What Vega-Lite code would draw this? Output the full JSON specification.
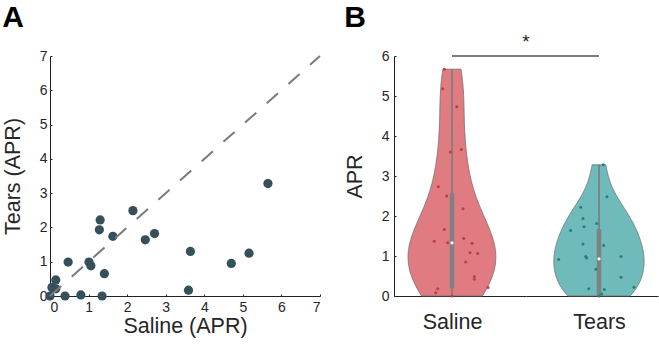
{
  "$schema": "https://vega.github.io/schema/vega-lite/v6.json",
  "background": "white",
  "padding": {"left": 2, "top": 3, "right": 2, "bottom": 2},
  "config": {
    "view": {"stroke": null},
    "font": "Liberation Sans",
    "axis": {"domainColor": "#222222", "domainWidth": 1, "ticks": true, "tickColor": "#222222", "tickWidth": 1, "tickSize": -2, "labelFontSize": 14, "labelColor": "#262626", "labelOverlap": false, "titleFontSize": 21.5, "titleFontWeight": "normal", "titleColor": "#262626", "grid": false, "labelFont": "Liberation Sans", "titleFont": "Liberation Sans"}
  },
  "datasets": {
    "pairs": [
      {"saline": 5.65, "tears": 3.28}, {"saline": 2.15, "tears": 2.49}, {"saline": 1.30, "tears": 2.22},
      {"saline": 1.28, "tears": 1.93}, {"saline": 1.63, "tears": 1.74}, {"saline": 2.47, "tears": 1.64},
      {"saline": 2.71, "tears": 1.82}, {"saline": 3.64, "tears": 1.30}, {"saline": 5.16, "tears": 1.25},
      {"saline": 4.70, "tears": 0.95}, {"saline": 3.59, "tears": 0.17}, {"saline": 0.47, "tears": 0.99},
      {"saline": 1.01, "tears": 0.99}, {"saline": 1.06, "tears": 0.88}, {"saline": 1.41, "tears": 0.65},
      {"saline": 0.15, "tears": 0.47}, {"saline": 0.15, "tears": 0.21}, {"saline": 0.05, "tears": 0.25},
      {"saline": 0.0, "tears": 0.0}, {"saline": 0.39, "tears": 0.0}, {"saline": 0.80, "tears": 0.03},
      {"saline": 1.35, "tears": 0.0}
    ],
    "apr": [
      {"group": "Saline", "value": 5.67, "jit": -7.7}, {"group": "Saline", "value": 5.18, "jit": -9.3},
      {"group": "Saline", "value": 4.73, "jit": 4.7}, {"group": "Saline", "value": 3.66, "jit": 9.3},
      {"group": "Saline", "value": 3.60, "jit": -1.7}, {"group": "Saline", "value": 2.73, "jit": -13.7},
      {"group": "Saline", "value": 2.50, "jit": -5.3}, {"group": "Saline", "value": 2.18, "jit": 11},
      {"group": "Saline", "value": 1.66, "jit": -7.7}, {"group": "Saline", "value": 1.44, "jit": 11.7},
      {"group": "Saline", "value": 1.37, "jit": -17.7}, {"group": "Saline", "value": 1.33, "jit": -4.3},
      {"group": "Saline", "value": 1.32, "jit": 20}, {"group": "Saline", "value": 1.09, "jit": 18},
      {"group": "Saline", "value": 1.06, "jit": 25.7}, {"group": "Saline", "value": 0.85, "jit": 13.7},
      {"group": "Saline", "value": 0.49, "jit": 22.3}, {"group": "Saline", "value": 0.42, "jit": 22.3},
      {"group": "Saline", "value": 0.21, "jit": 36}, {"group": "Saline", "value": 0.18, "jit": -14.3},
      {"group": "Saline", "value": 0.08, "jit": -16.3}, {"group": "Saline", "value": 0.0, "jit": 0},
      {"group": "Tears", "value": 3.28, "jit": 4.3}, {"group": "Tears", "value": 2.48, "jit": 8},
      {"group": "Tears", "value": 2.22, "jit": -18.3}, {"group": "Tears", "value": 1.94, "jit": -16},
      {"group": "Tears", "value": 1.73, "jit": -15}, {"group": "Tears", "value": 1.81, "jit": -2.3},
      {"group": "Tears", "value": 1.64, "jit": -28.3}, {"group": "Tears", "value": 1.30, "jit": -16},
      {"group": "Tears", "value": 1.26, "jit": 4.7}, {"group": "Tears", "value": 0.99, "jit": -13.3},
      {"group": "Tears", "value": 0.95, "jit": -12.3}, {"group": "Tears", "value": 0.99, "jit": 22},
      {"group": "Tears", "value": 0.91, "jit": -40.3}, {"group": "Tears", "value": 0.67, "jit": -3},
      {"group": "Tears", "value": 0.47, "jit": 22}, {"group": "Tears", "value": 0.18, "jit": -10.3},
      {"group": "Tears", "value": 0.16, "jit": 5.3}, {"group": "Tears", "value": 0.22, "jit": 35},
      {"group": "Tears", "value": 0.05, "jit": 2.7}, {"group": "Tears", "value": 0.0, "jit": 0}
    ],
    "stats": [
      {"group": "Saline", "min": 0, "q1": 0.19, "med": 1.33, "q3": 2.57, "max": 5.67},
      {"group": "Tears", "min": 0, "q1": 0, "med": 0.93, "q3": 1.67, "max": 3.28}
    ]
  },
  "spacing": 20,
  "hconcat": [
    {
      "width": 270,
      "height": 240,
      "title": {"text": "A", "anchor": "start", "frame": "bounds", "fontSize": 30, "fontWeight": "bold", "color": "#000000", "offset": 16, "font": "Liberation Sans"},
      "layer": [
        {
          "data": {"name": "pairs"},
          "mark": {"type": "circle", "size": 85, "opacity": 1, "color": "#36505b"},
          "encoding": {
            "x": {"field": "saline", "type": "quantitative", "scale": {"domain": [0, 7], "nice": false}, "axis": {"values": [0, 1, 2, 3, 4, 5, 6, 7], "labelOverlap": false, "title": "Saline (APR)", "labelPadding": 6, "titlePadding": 1}},
            "y": {"field": "tears", "type": "quantitative", "scale": {"domain": [0, 7], "nice": false}, "axis": {"values": [0, 1, 2, 3, 4, 5, 6, 7], "labelOverlap": false, "title": "Tears (APR)", "labelPadding": 5, "titlePadding": 15}}
          }
        },
        {
          "data": {"values": [{"saline": 0, "tears": 0}, {"saline": 7, "tears": 7}]},
          "mark": {"type": "line", "color": "#7a7a7a", "strokeWidth": 2, "strokeDash": [15, 14]},
          "encoding": {
            "x": {"field": "saline", "type": "quantitative", "axis": {"values": [0, 1, 2, 3, 4, 5, 6, 7], "labelOverlap": false, "title": "Saline (APR)", "labelPadding": 6, "titlePadding": 1}},
            "y": {"field": "tears", "type": "quantitative", "axis": {"values": [0, 1, 2, 3, 4, 5, 6, 7], "labelOverlap": false, "title": "Tears (APR)", "labelPadding": 5, "titlePadding": 15}}
          }
        }
      ]
    },
    {
      "title": {"text": "B", "anchor": "start", "frame": "bounds", "fontSize": 30, "fontWeight": "bold", "color": "#000000", "offset": 0, "font": "Liberation Sans"},
      "spacing": 0,
      "bounds": "flush",
      "hconcat": [
        {
          "width": 132,
          "height": 240,
          "resolve": {"scale": {"x": "independent"}},
          "layer": [
            {
              "data": {"name": "apr"},
              "transform": [
                {"filter": "datum.group === 'Saline'"},
                {"density": "value", "bandwidth": 0.8, "extent": [0, 5.67], "as": ["value", "density"]}
              ],
              "mark": {"type": "area", "orient": "horizontal", "fill": "#e07b81", "fillOpacity": 1, "stroke": "#6e6e6e", "strokeWidth": 0.8},
              "encoding": {
                "y": {"field": "value", "type": "quantitative", "scale": {"domain": [0, 6], "nice": false}, "axis": {"values": [0, 1, 2, 3, 4, 5, 6], "labelOverlap": false, "title": "APR", "labelPadding": 7, "titlePadding": 15}},
                "x": {"field": "density", "type": "quantitative", "stack": null, "impute": null, "scale": {"domain": [-0.349, 0.446], "nice": false, "zero": false}, "axis": null}
              }
            },
            {
              "data": {"name": "apr"},
              "transform": [
                {"filter": "datum.group === 'Saline'"},
                {"density": "value", "bandwidth": 0.8, "extent": [0, 5.67], "as": ["value", "density"]}
              ],
              "mark": {"type": "area", "orient": "horizontal", "fill": "#e07b81", "fillOpacity": 1, "stroke": "#6e6e6e", "strokeWidth": 0.8},
              "encoding": {
                "y": {"field": "value", "type": "quantitative", "scale": {"domain": [0, 6], "nice": false}, "axis": {"values": [0, 1, 2, 3, 4, 5, 6], "labelOverlap": false, "title": "APR", "labelPadding": 7, "titlePadding": 15}},
                "x": {"field": "density", "type": "quantitative", "stack": null, "impute": null, "scale": {"domain": [-0.446, 0.349], "reverse": true, "nice": false, "zero": false}, "axis": null}
              }
            },
            {
              "layer": [
                {
                  "data": {"name": "stats"},
                  "transform": [{"filter": "datum.group === 'Saline'"}],
                  "mark": {"type": "rule", "color": "#808080", "strokeWidth": 1.2},
                  "encoding": {
                    "x": {"datum": 0, "type": "quantitative", "scale": {"domain": [-58, 74], "nice": false, "zero": false}, "axis": {"values": [0], "labelExpr": "'Saline'", "ticks": false, "title": null, "labelFontSize": 21.5, "labelPadding": 15}},
                    "y": {"field": "min", "type": "quantitative", "scale": {"domain": [0, 6], "nice": false}, "axis": {"values": [0, 1, 2, 3, 4, 5, 6], "labelOverlap": false, "title": "APR", "labelPadding": 7, "titlePadding": 15}},
                    "y2": {"field": "max"}
                  }
                },
                {
                  "data": {"name": "stats"},
                  "transform": [{"filter": "datum.group === 'Saline'"}],
                  "mark": {"type": "rule", "color": "#808080", "strokeWidth": 4.5},
                  "encoding": {
                    "x": {"datum": 0, "type": "quantitative", "axis": {"values": [0], "labelExpr": "'Saline'", "ticks": false, "title": null, "labelFontSize": 21.5, "labelPadding": 15}},
                    "y": {"field": "q1", "type": "quantitative", "axis": {"values": [0, 1, 2, 3, 4, 5, 6], "labelOverlap": false, "title": "APR", "labelPadding": 7, "titlePadding": 15}},
                    "y2": {"field": "q3"}
                  }
                },
                {
                  "data": {"name": "stats"},
                  "transform": [{"filter": "datum.group === 'Saline'"}],
                  "mark": {"type": "point", "filled": true, "color": "#ffffff", "size": 10, "opacity": 1},
                  "encoding": {
                    "x": {"datum": 0, "type": "quantitative", "axis": {"values": [0], "labelExpr": "'Saline'", "ticks": false, "title": null, "labelFontSize": 21.5, "labelPadding": 15}},
                    "y": {"field": "med", "type": "quantitative", "axis": {"values": [0, 1, 2, 3, 4, 5, 6], "labelOverlap": false, "title": "APR", "labelPadding": 7, "titlePadding": 15}}
                  }
                },
                {
                  "data": {"name": "apr"},
                  "transform": [{"filter": "datum.group === 'Saline'"}],
                  "mark": {"type": "circle", "size": 9, "color": "#c23a48", "opacity": 1},
                  "encoding": {
                    "x": {"field": "jit", "type": "quantitative", "axis": {"values": [0], "labelExpr": "'Saline'", "ticks": false, "title": null, "labelFontSize": 21.5, "labelPadding": 15}},
                    "y": {"field": "value", "type": "quantitative", "axis": {"values": [0, 1, 2, 3, 4, 5, 6], "labelOverlap": false, "title": "APR", "labelPadding": 7, "titlePadding": 15}}
                  }
                },
                {
                  "data": {"values": [{}]},
                  "mark": {"type": "rule", "color": "#7f7f7f", "strokeWidth": 2},
                  "encoding": {
                    "x": {"datum": 0, "type": "quantitative", "axis": {"values": [0], "labelExpr": "'Saline'", "ticks": false, "title": null, "labelFontSize": 21.5, "labelPadding": 15}},
                    "x2": {"datum": 74},
                    "y": {"datum": 6, "type": "quantitative", "axis": {"values": [0, 1, 2, 3, 4, 5, 6], "labelOverlap": false, "title": "APR", "labelPadding": 7, "titlePadding": 15}}
                  }
                },
                {
                  "data": {"values": [{}]},
                  "mark": {"type": "text", "text": "*", "fontSize": 19, "color": "#262626", "baseline": "bottom", "dy": -4, "font": "Liberation Sans"},
                  "encoding": {
                    "x": {"datum": 74, "type": "quantitative", "axis": {"values": [0], "labelExpr": "'Saline'", "ticks": false, "title": null, "labelFontSize": 21.5, "labelPadding": 15}},
                    "y": {"datum": 6, "type": "quantitative", "axis": {"values": [0, 1, 2, 3, 4, 5, 6], "labelOverlap": false, "title": "APR", "labelPadding": 7, "titlePadding": 15}}
                  }
                }
              ]
            }
          ]
        },
        {
          "width": 132,
          "height": 240,
          "resolve": {"scale": {"x": "independent"}},
          "layer": [
            {
              "data": {"name": "apr"},
              "transform": [
                {"filter": "datum.group === 'Tears'"},
                {"density": "value", "bandwidth": 0.5, "extent": [0, 3.28], "as": ["value", "density"]}
              ],
              "mark": {"type": "area", "orient": "horizontal", "fill": "#6fbaba", "fillOpacity": 1, "stroke": "#6e6e6e", "strokeWidth": 0.8},
              "encoding": {
                "y": {"field": "value", "type": "quantitative", "scale": {"domain": [0, 6], "nice": false}, "axis": null},
                "x": {"field": "density", "type": "quantitative", "stack": null, "impute": null, "scale": {"domain": [-0.613, 0.496], "nice": false, "zero": false}, "axis": null}
              }
            },
            {
              "data": {"name": "apr"},
              "transform": [
                {"filter": "datum.group === 'Tears'"},
                {"density": "value", "bandwidth": 0.5, "extent": [0, 3.28], "as": ["value", "density"]}
              ],
              "mark": {"type": "area", "orient": "horizontal", "fill": "#6fbaba", "fillOpacity": 1, "stroke": "#6e6e6e", "strokeWidth": 0.8},
              "encoding": {
                "y": {"field": "value", "type": "quantitative", "scale": {"domain": [0, 6], "nice": false}, "axis": null},
                "x": {"field": "density", "type": "quantitative", "stack": null, "impute": null, "scale": {"domain": [-0.496, 0.613], "reverse": true, "nice": false, "zero": false}, "axis": null}
              }
            },
            {
              "layer": [
                {
                  "data": {"name": "stats"},
                  "transform": [{"filter": "datum.group === 'Tears'"}],
                  "mark": {"type": "rule", "color": "#808080", "strokeWidth": 1.2},
                  "encoding": {
                    "x": {"datum": 0, "type": "quantitative", "scale": {"domain": [-73, 59], "nice": false, "zero": false}, "axis": {"values": [0], "labelExpr": "'Tears'", "ticks": false, "title": null, "labelFontSize": 21.5, "labelPadding": 15}},
                    "y": {"field": "min", "type": "quantitative", "scale": {"domain": [0, 6], "nice": false}, "axis": null},
                    "y2": {"field": "max"}
                  }
                },
                {
                  "data": {"name": "stats"},
                  "transform": [{"filter": "datum.group === 'Tears'"}],
                  "mark": {"type": "rule", "color": "#808080", "strokeWidth": 4.5},
                  "encoding": {
                    "x": {"datum": 0, "type": "quantitative", "axis": {"values": [0], "labelExpr": "'Tears'", "ticks": false, "title": null, "labelFontSize": 21.5, "labelPadding": 15}},
                    "y": {"field": "q1", "type": "quantitative", "axis": null},
                    "y2": {"field": "q3"}
                  }
                },
                {
                  "data": {"name": "stats"},
                  "transform": [{"filter": "datum.group === 'Tears'"}],
                  "mark": {"type": "point", "filled": true, "color": "#ffffff", "size": 10, "opacity": 1},
                  "encoding": {
                    "x": {"datum": 0, "type": "quantitative", "axis": {"values": [0], "labelExpr": "'Tears'", "ticks": false, "title": null, "labelFontSize": 21.5, "labelPadding": 15}},
                    "y": {"field": "med", "type": "quantitative", "axis": null}
                  }
                },
                {
                  "data": {"name": "apr"},
                  "transform": [{"filter": "datum.group === 'Tears'"}],
                  "mark": {"type": "circle", "size": 9, "color": "#23807f", "opacity": 1},
                  "encoding": {
                    "x": {"field": "jit", "type": "quantitative", "axis": {"values": [0], "labelExpr": "'Tears'", "ticks": false, "title": null, "labelFontSize": 21.5, "labelPadding": 15}},
                    "y": {"field": "value", "type": "quantitative", "axis": null}
                  }
                },
                {
                  "data": {"values": [{}]},
                  "mark": {"type": "rule", "color": "#7f7f7f", "strokeWidth": 2},
                  "encoding": {
                    "x": {"datum": -73, "type": "quantitative", "axis": {"values": [0], "labelExpr": "'Tears'", "ticks": false, "title": null, "labelFontSize": 21.5, "labelPadding": 15}},
                    "x2": {"datum": 0},
                    "y": {"datum": 6, "type": "quantitative", "axis": null}
                  }
                }
              ]
            }
          ]
        }
      ]
    }
  ]
}
